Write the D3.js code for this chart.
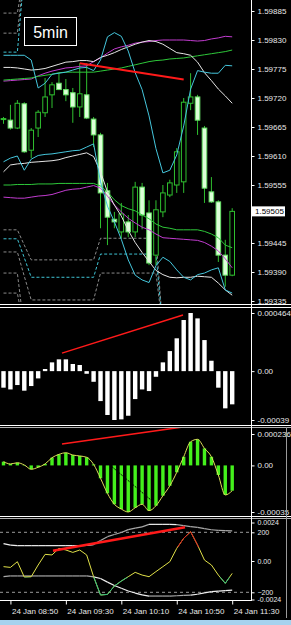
<!DOCTYPE html>
<html><head><meta charset="utf-8">
<script src="https://cdn.jsdelivr.net/npm/d3@7"></script>
<style>html,body{margin:0;padding:0;background:#000;overflow:hidden}svg{display:block}</style>
</head><body><svg id="c" width="291" height="625"></svg>
<script>
// ---------- DATA ----------
const times=["08:45","08:50","08:55","09:00","09:05","09:10","09:15","09:20","09:25","09:30","09:35","09:40","09:45","09:50","09:55","10:00","10:05","10:10","10:15","10:20","10:25","10:30","10:35","10:40","10:45","10:50","10:55","11:00","11:05","11:10","11:15","11:20","11:25","11:30"];
const timeTicks=["08:50","09:30","10:10","10:50","11:30"];
const priceTicks=[1.59885,1.59830,1.59775,1.59720,1.59665,1.59610,1.59555,1.59500,1.59445,1.59390,1.59335];
const lastPrice=1.59505;
const timeframeLabel="5min";

const open =[1.59680,1.59678,1.59663,1.59709,1.59621,1.59663,1.59692,1.59726,1.59748,1.59736,1.59730,1.59703,1.59726,1.59680,1.59650,1.59544,1.59490,1.59466,1.59485,1.59466,1.59551,1.59502,1.59422,1.59504,1.59536,1.59555,1.59561,1.59710,1.59722,1.59663,1.59542,1.59523,1.59422,1.59384];
const high =[1.59684,1.59707,1.59716,1.59712,1.59663,1.59697,1.59758,1.59750,1.59767,1.59756,1.59739,1.59786,1.59786,1.59684,1.59654,1.59559,1.59504,1.59521,1.59498,1.59561,1.59559,1.59526,1.59526,1.59555,1.59565,1.59625,1.59720,1.59767,1.59726,1.59667,1.59570,1.59526,1.59451,1.59511];
const low  =[1.59671,1.59660,1.59661,1.59616,1.59606,1.59646,1.59684,1.59701,1.59735,1.59714,1.59673,1.59684,1.59680,1.59627,1.59473,1.59441,1.59473,1.59454,1.59456,1.59456,1.59471,1.59403,1.59403,1.59494,1.59532,1.59540,1.59540,1.59697,1.59650,1.59521,1.59521,1.59409,1.59362,1.59382];
const close=[1.59681,1.59663,1.59710,1.59618,1.59659,1.59693,1.59722,1.59745,1.59736,1.59726,1.59703,1.59728,1.59682,1.59650,1.59540,1.59494,1.59485,1.59500,1.59466,1.59551,1.59498,1.59407,1.59508,1.59540,1.59559,1.59618,1.59712,1.59722,1.59678,1.59549,1.59523,1.59422,1.59384,1.59505];

const magentaUpper=[1.59752,1.59753,1.59754,1.59755,1.59756,1.59762,1.59767,1.59771,1.59774,1.59777,1.59778,1.59780,1.59781,1.59789,1.59796,1.59805,1.59813,1.59817,1.59820,1.59824,1.59826,1.59827,1.59829,1.59830,1.59830,1.59830,1.59830,1.59829,1.59828,1.59829,1.59832,1.59834,1.59837,1.59836];
const greenUpper=[1.59754,1.59755,1.59756,1.59757,1.59758,1.59761,1.59763,1.59765,1.59768,1.59769,1.59769,1.59769,1.59769,1.59769,1.59771,1.59773,1.59775,1.59777,1.59780,1.59783,1.59786,1.59789,1.59791,1.59792,1.59794,1.59795,1.59796,1.59798,1.59800,1.59802,1.59804,1.59806,1.59808,1.59811];
const whiteUpper=[1.59778,1.59778,1.59777,1.59775,1.59773,1.59774,1.59776,1.59780,1.59784,1.59788,1.59789,1.59791,1.59791,1.59789,1.59797,1.59801,1.59806,1.59812,1.59817,1.59822,1.59826,1.59829,1.59827,1.59822,1.59814,1.59806,1.59804,1.59801,1.59788,1.59768,1.59753,1.59737,1.59724,1.59710];
const cyanUpper=[1.59801,1.59801,1.59801,1.59801,1.59792,1.59739,1.59748,1.59765,1.59767,1.59769,1.59773,1.59777,1.59778,1.59772,1.59792,1.59836,1.59844,1.59837,1.59809,1.59768,1.59736,1.59686,1.59624,1.59578,1.59583,1.59612,1.59667,1.59737,1.59772,1.59769,1.59767,1.59767,1.59782,1.59781];
const whiteLower=[1.59580,1.59593,1.59595,1.59596,1.59598,1.59599,1.59600,1.59601,1.59603,1.59607,1.59610,1.59613,1.59616,1.59609,1.59580,1.59542,1.59517,1.59496,1.59469,1.59446,1.59427,1.59410,1.59393,1.59385,1.59380,1.59379,1.59380,1.59380,1.59382,1.59381,1.59380,1.59369,1.59356,1.59346];
const greenLower=[1.59555,1.59555,1.59556,1.59556,1.59556,1.59557,1.59557,1.59557,1.59558,1.59558,1.59558,1.59558,1.59558,1.59558,1.59553,1.59542,1.59527,1.59516,1.59510,1.59506,1.59498,1.59491,1.59481,1.59475,1.59473,1.59470,1.59470,1.59470,1.59470,1.59467,1.59462,1.59455,1.59441,1.59436];
const magentaLower=[1.59532,1.59531,1.59530,1.59530,1.59532,1.59534,1.59535,1.59537,1.59541,1.59545,1.59547,1.59548,1.59551,1.59554,1.59549,1.59534,1.59517,1.59504,1.59492,1.59483,1.59475,1.59470,1.59462,1.59455,1.59454,1.59453,1.59452,1.59451,1.59450,1.59446,1.59439,1.59430,1.59415,1.59398];
const cyanLower=[1.59599,1.59606,1.59610,1.59583,1.59604,1.59611,1.59613,1.59614,1.59616,1.59618,1.59620,1.59621,1.59627,1.59633,1.59561,1.59515,1.59485,1.59452,1.59413,1.59384,1.59375,1.59370,1.59402,1.59418,1.59410,1.59394,1.59380,1.59375,1.59385,1.59388,1.59394,1.59398,1.59356,1.59350];

// dashed channel levels (index = bar)
const levelTopA=[1.59881,1.59881,1.59881,1.59960];
const levelTopB=[1.59843,1.59843,1.59843,1.59960];
const levelTopC=[1.59807,1.59807,1.59807,1.59960];
const levelLowA=[1.59470,1.59470,1.59470,1.59441,1.59413,1.59413,1.59413,1.59413,1.59413,1.59413,1.59413,1.59413,1.59413,1.59413,1.59454,1.59454,1.59454,1.59454,1.59454,1.59454,1.59454,1.59454,1.59454,1.59280];
const levelLowB=[1.59453,1.59453,1.59453,1.59417,1.59380,1.59380,1.59380,1.59380,1.59380,1.59380,1.59380,1.59380,1.59380,1.59380,1.59424,1.59424,1.59424,1.59424,1.59424,1.59424,1.59424,1.59424,1.59424,1.59280];
const levelLowC=[1.59428,1.59428,1.59428,1.59382,1.59337,1.59337,1.59337,1.59337,1.59337,1.59337,1.59337,1.59337,1.59337,1.59337,1.59388,1.59388,1.59388,1.59388,1.59388,1.59388,1.59388,1.59388,1.59388,1.59280];
const levelLowD=[1.59388,1.59388,1.59388,1.59280];
const levelLowE=[1.59350,1.59350,1.59350,1.59280];

const trendMain=[[11,1.59786],[26,1.59755]];

const ao=[-0.000132,-0.000146,-0.000111,-0.000156,-0.000119,-0.000058,0.000017,0.00007,0.000094,0.000094,0.000057,0.000049,-0.000021,-0.000085,-0.000239,-0.00035,-0.00039,-0.000385,-0.000356,-0.000223,-0.000146,-0.000159,-0.000045,0.00007,0.00016,0.000262,0.000408,0.000464,0.000421,0.000248,0.000083,-0.000132,-0.000297,-0.000265];
const aoTicks=[0.000464,0,-0.00039];
const trendAO=[[8.44,0.000144],[25.9,0.000448]];

const ac=[0.000028,0.000011,0.00002,0.000003,-0.000029,-0.000014,0.000011,0.000058,0.000083,0.000095,0.000078,0.000071,0.000061,0.000008,-0.000097,-0.00021,-0.000292,-0.000328,-0.00035,-0.000318,-0.000292,-0.00034,-0.000303,-0.000228,-0.000153,-0.000052,0.000065,0.000178,0.000196,0.000128,0.000065,-0.000072,-0.000222,-0.00019];
const acTicks=[0.000236,0,-0.00035];
const trendAC=[[8.44,0.000161],[25.9,0.000289]];
const trendACblack=[[15.66,-0.00001],[21.57,-0.000273]];

const cci=[-29,-34,4,-98,-96,-18,53,49,93,82,66,82,49,-96,-218,-214,-158,-125,-96,-67,-85,-96,-62,-29,4,93,160,204,115,15,-18,-85,-140,-74];
const cciUpper=[125,115,111,111,111,111,111,111,111,111,111,111,112,118,145,171,185,199,218,228,236,253,253,253,253,251,245,238,233,225,217,213,211,209];
const cciLower=[-95,-91,-91,-91,-91,-91,-91,-91,-91,-91,-91,-91,-91,-97,-108,-132,-155,-173,-191,-205,-217,-225,-225,-225,-225,-223,-221,-219,-213,-204,-196,-192,-189,-185];
const cciLevels=[200,-200];
const cciAltTicks=[0.0024,0,-0.0024];
const trendCCI=[[7.14,77],[26.19,233]];

// ---------- DRAW ----------
const FONT='"Liberation Sans", Arial, sans-serif';
const svg=d3.select("#c");
svg.append("rect").attr("width",291).attr("height",625).attr("fill","#000");
const defs=svg.append("defs");
function clip(id,x0,y0,w,h){defs.append("clipPath").attr("id",id).append("rect").attr("x",x0).attr("y",y0).attr("width",w).attr("height",h);}
clip("cMain",0,0,251,304);
clip("cAO",0,309,251,116);
clip("cAC",0,427,251,89);
clip("cCCI",0,519,251,82);

const parse=d3.timeParse("%Y-%m-%d %H:%M");
const dates=times.map(t=>parse("2024-01-24 "+t));
const x=d3.scaleLinear().domain([0,times.length-1]).range([3.5,232.2]);
const xt=d3.scaleTime().domain([dates[0],dates[dates.length-1]]).range([3.5,232.2]);

// Main price panel
const yP=d3.scaleLinear().domain([1.59335,1.59885]).range([301,11]);
const gM=svg.append("g").attr("clip-path","url(#cMain)");
function seriesLine(g,arr,y,color,opts={}){
  const ln=d3.line().defined(d=>d!=null).x((d,i)=>x(i)).y(d=>y(d));
  if(opts.curve) ln.curve(opts.curve);
  const p=g.append("path").datum(arr).attr("d",ln).attr("fill","none").attr("stroke",color).attr("stroke-width",opts.w||1);
  if(opts.dash) p.attr("stroke-dasharray",opts.dash);
  return p;
}
[[levelTopA,"#8a8a8a"],[levelTopB,"#8a8a8a"],[levelTopC,"#3fc4d4"],[levelLowA,"#8a8a8a"],[levelLowB,"#3fc4d4"],[levelLowC,"#8a8a8a"],[levelLowD,"#8a8a8a"],[levelLowE,"#8a8a8a"]]
  .forEach(([a,c])=>seriesLine(gM,a,yP,c,{dash:"3,2"}));

// candles
const cw=4.6;
const cg=gM.append("g");
cg.selectAll("line.w").data(d3.range(times.length)).join("line")
  .attr("x1",i=>x(i)).attr("x2",i=>x(i)).attr("y1",i=>yP(high[i])).attr("y2",i=>yP(low[i]))
  .attr("stroke","#2fbf2f").attr("stroke-width",1);
cg.selectAll("rect.b").data(d3.range(times.length)).join("rect")
  .attr("x",i=>x(i)-cw/2).attr("width",cw)
  .attr("y",i=>yP(Math.max(open[i],close[i])))
  .attr("height",i=>Math.max(1,Math.abs(yP(open[i])-yP(close[i]))))
  .attr("fill",i=>close[i]>=open[i]?"#000":"#dcffd8")
  .attr("stroke",i=>close[i]>=open[i]?"#2fbf2f":"#66e066").attr("stroke-width",1);

// band lines
seriesLine(gM,magentaUpper,yP,"#c23cd0");
seriesLine(gM,greenUpper,yP,"#2ec83a");
seriesLine(gM,whiteUpper,yP,"#e6e6e6");
seriesLine(gM,cyanUpper,yP,"#45c6dc");
seriesLine(gM,magentaLower,yP,"#c23cd0");
seriesLine(gM,greenLower,yP,"#2ec83a");
seriesLine(gM,whiteLower,yP,"#e6e6e6");
seriesLine(gM,cyanLower,yP,"#45c6dc");

// trend line
gM.append("line").attr("x1",x(trendMain[0][0])).attr("y1",yP(trendMain[0][1]))
  .attr("x2",x(trendMain[1][0])).attr("y2",yP(trendMain[1][1])).attr("stroke","#ff1a1a").attr("stroke-width",2);

// timeframe box
gM.append("rect").attr("x",24.5).attr("y",17.5).attr("width",52).attr("height",28).attr("fill","#000").attr("stroke","#fff").attr("stroke-width",1);
gM.append("text").attr("x",50.5).attr("y",37.5).attr("text-anchor","middle").attr("fill","#fff")
  .attr("font-family",FONT).attr("font-size",16).text(timeframeLabel);

function rightAxis(scale,ticks,fmt){
  const g=svg.append("g").attr("transform","translate(251.5,0)")
    .call(d3.axisRight(scale).tickValues(ticks).tickFormat(fmt).tickSize(3).tickPadding(3));
  g.select(".domain").remove();
  g.selectAll(".tick line").attr("stroke","#fff");
  g.selectAll(".tick text").attr("fill","#e8e8e8").attr("font-family",FONT).attr("font-size",8);
  return g;
}
rightAxis(yP,priceTicks.filter(p=>Math.abs(yP(p)-yP(lastPrice))>6),d3.format(".5f"));
const ly=yP(lastPrice);
svg.append("rect").attr("x",252).attr("y",ly-5).attr("width",33).attr("height",10).attr("fill","#fff");
svg.append("text").attr("x",255).attr("y",ly+3).attr("fill","#000").attr("font-family",FONT).attr("font-size",8).text(d3.format(".5f")(lastPrice));

// AO panel
const yAO=d3.scaleLinear().domain([-0.00039,0.000464]).range([420,313]);
const gA=svg.append("g").attr("clip-path","url(#cAO)");
gA.selectAll("rect").data(ao).join("rect")
  .attr("x",(d,i)=>x(i)-2.2).attr("width",4.4)
  .attr("y",d=>Math.min(yAO(d),yAO(0))).attr("height",d=>Math.abs(yAO(d)-yAO(0)))
  .attr("fill","#fff");
gA.append("line").attr("x1",x(trendAO[0][0])).attr("y1",yAO(trendAO[0][1])).attr("x2",x(trendAO[1][0])).attr("y2",yAO(trendAO[1][1]))
  .attr("stroke","#ff1a1a").attr("stroke-width",1.5);
const numFmt=v=>v===0?"0.00":String(v);
rightAxis(yAO,aoTicks,numFmt);

// AC panel
const yAC=d3.scaleLinear().domain([-0.00035,0.000236]).range([512,434]);
const gC=svg.append("g").attr("clip-path","url(#cAC)");
gC.selectAll("rect").data(ac).join("rect")
  .attr("x",(d,i)=>x(i)-1.7).attr("width",3.4)
  .attr("y",d=>Math.min(yAC(d),yAC(0))).attr("height",d=>Math.abs(yAC(d)-yAC(0)))
  .attr("fill","#44f01c");
gC.append("line").attr("x1",x(trendACblack[0][0])).attr("y1",yAC(trendACblack[0][1])).attr("x2",x(trendACblack[1][0])).attr("y2",yAC(trendACblack[1][1]))
  .attr("stroke","#000").attr("stroke-width",1).attr("stroke-dasharray","2,1");
seriesLine(gC,ac,yAC,"#dede5a",{curve:d3.curveMonotoneX});
gC.append("line").attr("x1",x(trendAC[0][0])).attr("y1",yAC(trendAC[0][1])).attr("x2",x(trendAC[1][0])).attr("y2",yAC(trendAC[1][1]))
  .attr("stroke","#ff1a1a").attr("stroke-width",1.5);
rightAxis(yAC,acTicks,numFmt);

// CCI panel
const yC=d3.scaleLinear().domain([-200,200]).range([592.3,532.3]);
const yC2=d3.scaleLinear().domain([-0.0024,0.0024]).range([599.5,522.5]);
const gK=svg.append("g").attr("clip-path","url(#cCCI)");
cciLevels.forEach(v=>gK.append("line").attr("x1",0).attr("x2",251).attr("y1",yC(v)).attr("y2",yC(v))
  .attr("stroke","#9a9a9a").attr("stroke-dasharray","3,3"));
function segLines(g,arr,colorFn){
  for(let i=0;i<arr.length-1;i++){
    g.append("line").attr("x1",x(i)).attr("y1",yC(arr[i])).attr("x2",x(i+1)).attr("y2",yC(arr[i+1]))
      .attr("stroke",colorFn(i)).attr("stroke-width",1.2);
  }
}
segLines(gK,cciUpper,i=>(i>=13&&i<21)||i>=25?"#a8a8a8":"#f0f0f0");
segLines(gK,cciLower,i=>i<13||(i>=21&&i<27)?"#a8a8a8":"#f0f0f0");
seriesLine(gK,cci,yC,"#e0e048");
clip("cHi",0,519,251,yC(100)-519);
clip("cLo",0,yC(-100),251,601-yC(-100));
seriesLine(gK.append("g").attr("clip-path","url(#cHi)"),cci,yC,"#e02020");
seriesLine(gK.append("g").attr("clip-path","url(#cLo)"),cci,yC,"#2fbf80");
gK.append("line").attr("x1",x(trendCCI[0][0])).attr("y1",yC(trendCCI[0][1])).attr("x2",x(trendCCI[1][0])).attr("y2",yC(trendCCI[1][1]))
  .attr("stroke","#ff1a1a").attr("stroke-width",2.5);
const alt=rightAxis(yC2,cciAltTicks,numFmt);
alt.selectAll(".tick text").attr("font-size",7);
const lv=rightAxis(yC,cciLevels,d3.format("d"));
lv.selectAll(".tick text").attr("font-size",7);

// separators and frame
const sep=(y,c)=>svg.append("line").attr("x1",0).attr("x2",291).attr("y1",y).attr("y2",y).attr("stroke",c).attr("stroke-width",1);
sep(304.5,"#fff");sep(307.5,"#fff");
sep(425.5,"#fff");sep(427.5,"#b0b0b0");
sep(516.5,"#fff");sep(518.5,"#b0b0b0");
svg.append("line").attr("x1",0).attr("x2",252).attr("y1",600.5).attr("y2",600.5).attr("stroke","#fff");
svg.append("line").attr("x1",251.5).attr("x2",251.5).attr("y1",0).attr("y2",601).attr("stroke","#fff");
svg.append("line").attr("x1",286.5).attr("x2",286.5).attr("y1",427).attr("y2",618).attr("stroke","#9a9a9a");

// time axis
const tickDates=timeTicks.map(t=>parse("2024-01-24 "+t));
const gx=svg.append("g").attr("transform","translate(0,600.5)")
  .call(d3.axisBottom(xt).tickValues(tickDates).tickFormat(d3.timeFormat("%d %b %H:%M")).tickSize(4).tickPadding(2));
gx.select(".domain").remove();
gx.selectAll(".tick line").attr("stroke","#fff");
gx.selectAll(".tick text").attr("fill","#e8e8e8").attr("font-family",FONT).attr("font-size",8)
  .attr("text-anchor","start").attr("x",1).attr("dy","0.9em");

svg.append("rect").attr("x",0).attr("y",620).attr("width",291).attr("height",5).attr("fill","#a6d2ee");
</script></body></html>
